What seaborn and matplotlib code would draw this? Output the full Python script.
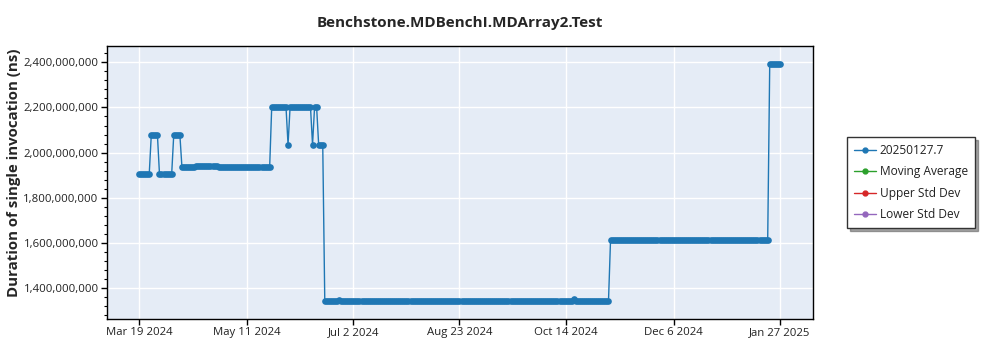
import numpy as np
import pandas as pd
import matplotlib
matplotlib.use("Agg")
import matplotlib.pyplot as plt
from matplotlib.lines import Line2D
from matplotlib.ticker import FuncFormatter, MultipleLocator
import seaborn as sns

# ---- data (run-length segments) ----
seg_start = ["2024-03-19", "2024-03-25", "2024-03-29", "2024-04-05", "2024-04-09",
             "2024-04-16", "2024-04-27", "2024-05-23", "2024-05-31", "2024-06-01",
             "2024-06-12", "2024-06-13", "2024-06-15", "2024-06-18", "2024-06-25",
             "2024-06-26", "2024-10-18", "2024-10-19", "2024-11-05", "2025-01-22"]
seg_end = ["2024-03-24", "2024-03-28", "2024-04-04", "2024-04-08", "2024-04-15",
           "2024-04-26", "2024-05-22", "2024-05-30", "2024-05-31", "2024-06-11",
           "2024-06-12", "2024-06-14", "2024-06-17", "2024-06-24", "2024-06-25",
           "2024-10-17", "2024-10-18", "2024-11-04", "2025-01-21", "2025-01-27"]
seg_value = [1.907e9, 2.079e9, 1.907e9, 2.079e9, 1.938e9,
             1.942e9, 1.938e9, 2.202e9, 2.035e9, 2.202e9,
             2.035e9, 2.202e9, 2.035e9, 1.343e9, 1.346e9,
             1.343e9, 1.352e9, 1.343e9, 1.612e9, 2.392e9]

series_name = "20250127.7"
legend_labels = [series_name, "Moving Average", "Upper Std Dev", "Lower Std Dev"]
legend_colors = ["#1f77b4", "#2ca02c", "#d62728", "#9467bd"]

tick_dates = ["2024-03-19", "2024-05-11", "2024-07-02", "2024-08-23",
              "2024-10-14", "2024-12-06", "2025-01-27"]
tick_labels = ["Mar 19 2024", "May 11 2024", "Jul 2 2024", "Aug 23 2024",
               "Oct 14 2024", "Dec 6 2024", "Jan 27 2025"]

title = "Benchstone.MDBenchI.MDArray2.Test"
ylabel = "Duration of single invocation (ns)"

# ---- expand segments to daily points ----
dates, values = [], []
for s, e, v in zip(seg_start, seg_end, seg_value):
    d = pd.date_range(s, e, freq="D")
    dates.extend(d)
    values.extend([v] * len(d))
df = pd.DataFrame({"date": dates, "value": values})

# ---- styling ----
sns.set_style("white")
plt.rcParams["font.family"] = ["Open Sans", "DejaVu Sans"]

fig = plt.figure(figsize=(10, 3.5), dpi=100)
ax = fig.add_axes([0.107, 0.0886, 0.706, 0.78])
ax.set_facecolor("#E5ECF6")

sns.lineplot(data=df, x="date", y="value", ax=ax, color=legend_colors[0],
             marker="o", markersize=4.8, markeredgewidth=0, linewidth=1.0,
             legend=False)

ax.set_xlim(pd.Timestamp("2024-03-19") - pd.Timedelta(days=15.7),
            pd.Timestamp("2024-03-19") + pd.Timedelta(days=330.2))
ax.set_ylim(1.264e9, 2.472e9)

ax.set_xticks([pd.Timestamp(t) for t in tick_dates])
ax.set_xticklabels(tick_labels)
ax.yaxis.set_major_locator(MultipleLocator(2e8))
ax.yaxis.set_minor_locator(MultipleLocator(4e7))
ax.yaxis.set_major_formatter(FuncFormatter(lambda v, p: f"{v:,.0f}"))
ax.tick_params(axis="both", which="major", direction="out", length=4, width=1,
               color="black", labelsize=8.2, labelcolor="#222222",
               bottom=True, left=True, pad=2)
ax.tick_params(axis="y", which="minor", direction="out", length=2, width=0.8,
               color="black", left=True)
ax.grid(True, which="major", color="white", linewidth=1)
ax.set_axisbelow(True)
for sp in ax.spines.values():
    sp.set_color("black")
    sp.set_linewidth(1)

ax.set_xlabel("")
ax.set_ylabel(ylabel, fontsize=10.8, fontweight="bold")
ax.yaxis.set_label_coords(-0.122, 0.537)
ax.set_title(title, fontsize=11, fontweight="bold", pad=14)

handles = [Line2D([0], [0], color=c, marker="o", markersize=3.5, linewidth=1)
           for c in legend_colors]
leg = fig.legend(handles, legend_labels, loc="upper left",
                 bbox_to_anchor=(0.847, 0.609), fontsize=8.6, frameon=True,
                 fancybox=False, shadow=True, framealpha=1, edgecolor="#333333",
                 handlelength=1.8, handletextpad=0.35, borderpad=0.6,
                 labelspacing=0.7, borderaxespad=0)
leg.get_frame().set_linewidth(1)
for t in leg.get_texts():
    t.set_color("#222222")

fig.savefig("out.png", dpi=100, facecolor="white")
